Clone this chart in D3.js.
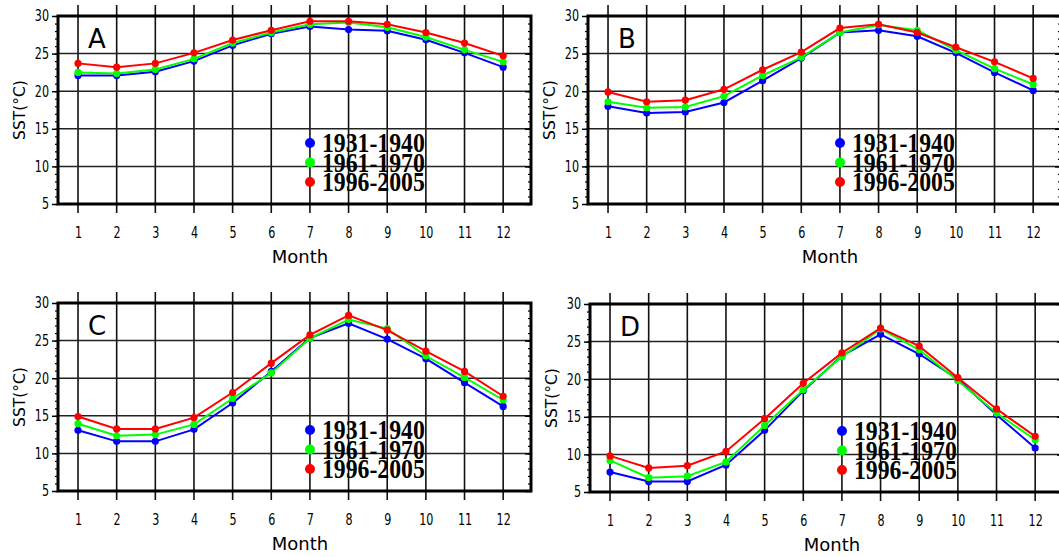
<!DOCTYPE html>
<html>
<head>
<meta charset="utf-8">
<script src="https://cdn.jsdelivr.net/npm/d3@7"></script>
<style>
  html, body { margin: 0; padding: 0; background: #fff; }
  svg { display: block; }
</style>
</head>
<body>
<svg id="chart" width="1059" height="557"></svg>
<script>
// ---------------- DATA ----------------
const months = [1, 2, 3, 4, 5, 6, 7, 8, 9, 10, 11, 12];
const seriesNames = ["1931-1940", "1961-1970", "1996-2005"];
const panelLabels = ["A", "B", "C", "D"];
const yTicks = [5, 10, 15, 20, 25, 30];

// Panel A
const sstA1931 = [22.1, 22.1, 22.6, 24.0, 26.1, 27.65, 28.6, 28.2, 28.05, 26.85, 25.1, 23.2];
const sstA1961 = [22.5, 22.35, 22.9, 24.3, 26.4, 27.8, 28.9, 29.15, 28.5, 27.2, 25.5, 23.9];
const sstA1996 = [23.7, 23.2, 23.7, 25.1, 26.8, 28.1, 29.3, 29.3, 28.9, 27.8, 26.4, 24.7];
// Panel B
const sstB1931 = [18.0, 17.1, 17.25, 18.5, 21.4, 24.4, 27.8, 28.1, 27.3, 25.1, 22.5, 20.1];
const sstB1961 = [18.6, 17.8, 17.9, 19.35, 22.1, 24.5, 27.8, 28.8, 28.1, 25.45, 23.0, 20.9];
const sstB1996 = [19.9, 18.6, 18.8, 20.25, 22.85, 25.2, 28.4, 28.9, 27.8, 25.85, 23.9, 21.7];
// Panel C
const sstC1931 = [13.07, 11.6, 11.6, 13.2, 16.7, 20.9, 25.35, 27.3, 25.2, 22.6, 19.4, 16.25];
const sstC1961 = [13.95, 12.35, 12.5, 13.85, 17.3, 20.7, 25.3, 27.8, 26.6, 22.95, 20.1, 17.1];
const sstC1996 = [14.9, 13.25, 13.25, 14.75, 18.1, 22.0, 25.75, 28.35, 26.4, 23.6, 20.9, 17.6];
// Panel D
const sstD1931 = [7.65, 6.4, 6.4, 8.6, 13.2, 18.45, 23.1, 25.97, 23.35, 20.0, 15.27, 10.85];
const sstD1961 = [9.2, 6.9, 7.1, 9.0, 13.85, 18.6, 23.0, 26.7, 23.9, 19.8, 15.5, 11.95];
const sstD1996 = [9.8, 8.2, 8.5, 10.4, 14.75, 19.45, 23.5, 26.8, 24.4, 20.2, 16.05, 12.4];

const panelData = [
  [sstA1931, sstA1961, sstA1996],
  [sstB1931, sstB1961, sstB1996],
  [sstC1931, sstC1961, sstC1996],
  [sstD1931, sstD1961, sstD1996]
];

// ---------------- LAYOUT / STYLE ----------------
const colors = ["#0000ff", "#00ff00", "#ff0000"];
const frames = [
  { left: 58,  top: 16 },
  { left: 588, top: 16 },
  { left: 58,  top: 303 },
  { left: 590, top: 304 }
];
const plotW = 473, plotH = 188;
const xDomain = [0.482, 12.72];
const squeeze = 0.72;

const svg = d3.select("#chart");

frames.forEach((f, pi) => {
  const g = svg.append("g").attr("transform", `translate(${f.left},${f.top})`);
  const x = d3.scaleLinear().domain(xDomain).range([0, plotW]);
  const y = d3.scaleLinear().domain([5, 30]).range([plotH, 0]);

  // vertical grid lines (extend beyond frame top and bottom)
  g.append("g").selectAll("line").data(months).join("line")
    .attr("x1", d => x(d)).attr("x2", d => x(d))
    .attr("y1", -11).attr("y2", plotH + 9)
    .attr("stroke", "#111").attr("stroke-width", 1.6);

  // horizontal grid lines
  g.append("g").selectAll("line").data(yTicks.slice(1, -1)).join("line")
    .attr("x1", 0).attr("x2", plotW)
    .attr("y1", d => y(d)).attr("y2", d => y(d))
    .attr("stroke", "#222").attr("stroke-width", 1.5);

  // left axis: minor ticks
  const minor = d3.range(5, 31, 1);
  g.append("g").call(d3.axisLeft(y).tickValues(minor).tickSize(3).tickFormat(""))
    .call(s => s.select(".domain").remove())
    .selectAll("line").attr("stroke", "#000").attr("stroke-width", 1.2);
  // left axis: major ticks with labels
  const ya = g.append("g").call(d3.axisLeft(y).tickValues(yTicks).tickSize(6).tickPadding(6.5))
    .call(s => s.select(".domain").remove());
  ya.selectAll("line").attr("stroke", "#000").attr("stroke-width", 1.5);
  ya.selectAll("text")
    .attr("font-family", "DejaVu Sans").attr("font-size", 15.5).attr("fill", "#000")
    .attr("transform", `scale(${squeeze},1)`);

  // right axis ticks (inward)
  g.append("g").attr("transform", `translate(${plotW},0)`)
    .call(d3.axisLeft(y).tickValues(minor).tickSize(3).tickFormat(""))
    .call(s => s.select(".domain").remove())
    .selectAll("line").attr("stroke", "#000").attr("stroke-width", 1.2);
  g.append("g").attr("transform", `translate(${plotW},0)`)
    .call(d3.axisLeft(y).tickValues(yTicks).tickSize(6).tickFormat(""))
    .call(s => s.select(".domain").remove())
    .selectAll("line").attr("stroke", "#000").attr("stroke-width", 1.5);

  // bottom axis labels
  const xa = g.append("g").attr("transform", `translate(0,${plotH})`)
    .call(d3.axisBottom(x).tickValues(months).tickSize(0).tickPadding(23));
  xa.select(".domain").remove();
  xa.selectAll("text")
    .attr("font-family", "DejaVu Sans").attr("font-size", 15.5).attr("fill", "#000")
    .attr("transform", `scale(${squeeze},1)`);

  // frame
  g.append("rect").attr("x", 0).attr("y", 0).attr("width", plotW).attr("height", plotH)
    .attr("fill", "none").attr("stroke", "#000").attr("stroke-width", 3);

  // data lines and points
  const line = d3.line().x((d, i) => x(months[i])).y(d => y(d));
  panelData[pi].forEach((vals, si) => {
    g.append("path").datum(vals).attr("d", line)
      .attr("fill", "none").attr("stroke", colors[si]).attr("stroke-width", 2);
    g.append("g").selectAll("circle").data(vals).join("circle")
      .attr("cx", (d, i) => x(months[i])).attr("cy", d => y(d)).attr("r", 3.6)
      .attr("fill", colors[si]);
  });

  // panel letter
  g.append("text").attr("x", 30).attr("y", 32)
    .attr("font-family", "DejaVu Sans").attr("font-size", 26).attr("fill", "#000")
    .text(panelLabels[pi]);

  // legend
  const lg = g.append("g").attr("transform", `translate(252,127)`);
  seriesNames.forEach((name, si) => {
    const row = lg.append("g").attr("transform", `translate(0,${si * 19.5})`);
    row.append("circle").attr("cx", 0).attr("cy", 0).attr("r", 5).attr("fill", colors[si]);
    row.append("text").attr("x", 12).attr("y", 9)
      .attr("font-family", "Liberation Serif").attr("font-weight", "bold")
      .attr("font-size", 25).attr("fill", "#000")
      .attr("transform", "translate(12,9) scale(0.95,1.05) translate(-12,-9)")
      .text(name);
  });

  // axis titles
  g.append("text")
    .attr("transform", `translate(-33,${plotH / 2}) rotate(-90)`)
    .attr("text-anchor", "middle")
    .attr("font-family", "DejaVu Sans").attr("font-size", 15.5).attr("fill", "#000")
    .text("SST(°C)");
  g.append("text").attr("x", 242).attr("y", plotH + 59)
    .attr("text-anchor", "middle")
    .attr("font-family", "DejaVu Sans").attr("font-size", 18).attr("fill", "#000")
    .text("Month");
});
</script>
</body>
</html>
